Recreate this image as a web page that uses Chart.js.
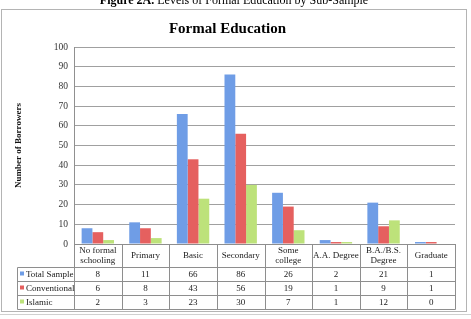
<!DOCTYPE html>
<html>
<head>
<meta charset="utf-8">
<script src="https://cdn.jsdelivr.net/npm/chart.js@4"></script>
<style>
  html, body { margin: 0; padding: 0; background: #fff; }
  #wrap { width: 471px; height: 319px; position: relative; }
</style>
</head>
<body>
<div id="wrap"><canvas id="eduChart" width="471" height="319"></canvas></div>
<script>
// Data
const categories = [
  ["No formal", "schooling"], ["Primary"], ["Basic"], ["Secondary"],
  ["Some", "college"], ["A.A. Degree"], ["B.A./B.S.", "Degree"], ["Graduate"]
];
const totalSample = [8, 11, 66, 86, 26, 2, 21, 1];
const conventional = [6, 8, 43, 56, 19, 1, 9, 1];
const islamic = [2, 3, 23, 30, 7, 1, 12, 0];
const seriesNames = ["Total Sample", "Conventional", "Islamic"];
const seriesColors = ["#6f9de6", "#e5605f", "#bde27a"];

const serif = "'Liberation Serif', 'DejaVu Serif', serif";

// gradient bars like the old office look
function barFill(i) {
  return function (ctx) {
    const el = ctx.element;
    const c = ctx.chart.ctx;
    if (!el || !isFinite(el.x) || !el.width) return seriesColors[i];
    const g = c.createLinearGradient(el.x - el.width / 2, 0, el.x + el.width / 2, 0);
    const light = ["#a9c6f5", "#f3a3a2", "#dff3b8"][i];
    g.addColorStop(0, light);
    g.addColorStop(0.45, seriesColors[i]);
    g.addColorStop(1, seriesColors[i]);
    return g;
  };
}

// frame, caption and data table under the plot
const tablePlugin = {
  id: "tablePlugin",
  beforeDraw(chart) {
    const c = chart.ctx;
    c.save();
    c.fillStyle = "#fff";
    c.fillRect(0, 0, chart.width, chart.height);
    // caption (cut at the top edge)
    c.fillStyle = "#000";
    c.textBaseline = "alphabetic";
    c.font = "bold 12px " + serif;
    const a = "Figure 2A.";
    const b = " Levels of Formal Education by Sub-Sample";
    const wa = c.measureText(a).width;
    c.font = "12px " + serif;
    const wb = c.measureText(b).width;
    let x0 = 234 - (wa + wb) / 2;
    c.font = "bold 12px " + serif;
    c.fillText(a, x0, 4);
    c.font = "12px " + serif;
    c.fillText(b, x0 + wa, 4);
    // frame
    c.strokeStyle = "#b4b4b4";
    c.lineWidth = 1;
    c.strokeRect(1.5, 9.5, 465, 302);
    c.strokeStyle = "#d0d0d0";
    c.beginPath();
    c.moveTo(0, 314.5);
    c.lineTo(471, 314.5);
    c.stroke();
    c.restore();
  },
  afterDraw(chart) {
    const c = chart.ctx;
    const area = chart.chartArea;
    const xs = chart.scales.x;
    const colW = (area.right - area.left) / categories.length;
    const tLeft = 17.5;
    const rows = [area.bottom, 267, 281, 295, 309];
    const data = [totalSample, conventional, islamic];
    c.save();
    c.strokeStyle = "#8e8e8e";
    c.lineWidth = 1;
    c.beginPath();
    // horizontal lines
    c.moveTo(Math.round(area.left) + 0.5, Math.round(rows[0]) + 0.5);
    c.lineTo(Math.round(area.right) + 0.5, Math.round(rows[0]) + 0.5);
    for (let r = 1; r < rows.length; r++) {
      c.moveTo(tLeft, rows[r] + 0.5);
      c.lineTo(Math.round(area.right) + 0.5, rows[r] + 0.5);
    }
    // vertical lines
    for (let i = 0; i <= categories.length; i++) {
      const x = Math.round(area.left + i * colW) + 0.5;
      c.moveTo(x, Math.round(rows[0]));
      c.lineTo(x, rows[4] + 0.5);
    }
    c.moveTo(tLeft, rows[1] + 0.5);
    c.lineTo(tLeft, rows[4] + 0.5);
    c.stroke();

    c.fillStyle = "#1a1a1a";
    c.font = "9px " + serif;
    c.textAlign = "center";
    c.textBaseline = "middle";
    categories.forEach((lab, i) => {
      const cx = xs.getPixelForValue(i);
      const mid = (rows[0] + rows[1]) / 2;
      lab.forEach((line, k) => {
        c.fillText(line, cx, mid + (k - (lab.length - 1) / 2) * 10.5);
      });
      data.forEach((vals, r) => {
        c.fillText(String(vals[i]), cx, (rows[r + 1] + rows[r + 2]) / 2 + 0.5);
      });
    });
    // legend keys and row labels
    c.textAlign = "left";
    seriesNames.forEach((name, r) => {
      const my = (rows[r + 1] + rows[r + 2]) / 2;
      c.fillStyle = seriesColors[r];
      c.fillRect(20, my - 2.5, 4, 4);
      c.fillStyle = "#1a1a1a";
      c.fillText(name, 26, my + 0.5);
    });
    c.restore();
  }
};

new Chart(document.getElementById("eduChart"), {
  type: "bar",
  data: {
    labels: categories,
    datasets: [
      { label: seriesNames[0], data: totalSample, backgroundColor: barFill(0) },
      { label: seriesNames[1], data: conventional, backgroundColor: barFill(1) },
      { label: seriesNames[2], data: islamic, backgroundColor: barFill(2) }
    ]
  },
  options: {
    responsive: false,
    animation: false,
    layout: { padding: { top: 0, right: 16, bottom: 75, left: 0 } },
    datasets: { bar: { categoryPercentage: 0.68, barPercentage: 1.0 } },
    scales: {
      x: {
        ticks: { display: false },
        grid: { display: false },
        border: { display: false },
        afterFit(scale) { scale.height = 0; }
      },
      y: {
        min: 0,
        max: 100,
        ticks: {
          stepSize: 10,
          color: "#333",
          padding: 6,
          font: { family: serif, size: 9.5 }
        },
        grid: { color: "#a0a0a0", drawTicks: false },
        border: { color: "#909090" },
        title: {
          display: true,
          text: "Number of Borrowers",
          color: "#111",
          padding: { top: 13 },
          font: { family: serif, size: 9, weight: "bold" }
        },
        afterFit(scale) { scale.width = 74; }
      }
    },
    plugins: {
      legend: { display: false },
      tooltip: { enabled: false },
      title: {
        display: true,
        text: "Formal Education",
        color: "#000",
        padding: { top: 20, bottom: 9 },
        font: { family: serif, size: 15, weight: "bold" }
      }
    }
  },
  plugins: [tablePlugin]
});
</script>
</body>
</html>
